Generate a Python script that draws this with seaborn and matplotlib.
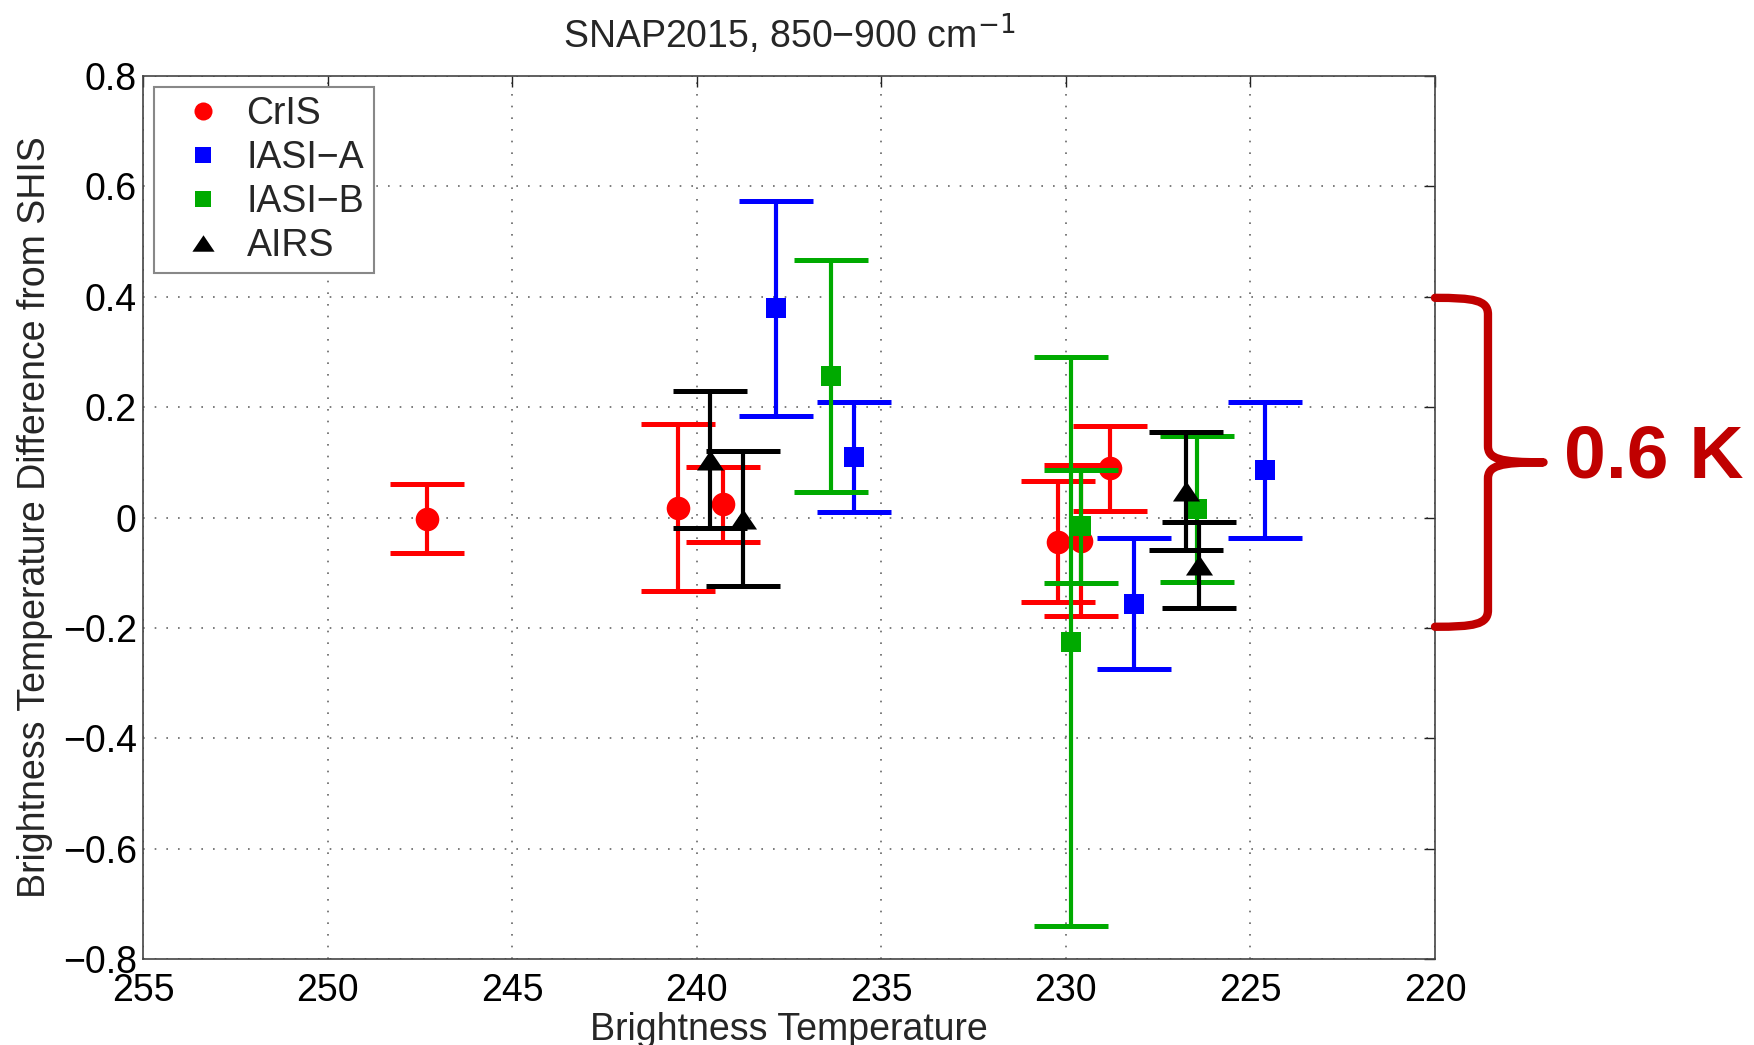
import numpy as np
import pandas as pd
import matplotlib
matplotlib.use("Agg")
import matplotlib.pyplot as plt
import seaborn as sns
from matplotlib.path import Path
from matplotlib.patches import PathPatch
from matplotlib.lines import Line2D
from matplotlib.transforms import blended_transform_factory
from matplotlib.ticker import FuncFormatter

# ---- data ----
series_names = ["CrIS", "IASI\u2212A", "IASI\u2212B", "AIRS"]

cris_t = [247.3, 240.5, 239.3, 230.2, 229.6, 228.8]
cris_v = [-0.002, 0.018, 0.024, -0.044, -0.042, 0.089]
cris_e = [0.062, 0.152, 0.068, 0.110, 0.137, 0.077]

iasia_t = [237.85, 235.75, 228.15, 224.6]
iasia_v = [0.379, 0.110, -0.156, 0.086]
iasia_e = [0.195, 0.100, 0.118, 0.123]

iasib_t = [236.35, 229.85, 229.6, 226.45]
iasib_v = [0.257, -0.225, -0.016, 0.016]
iasib_e = [0.210, 0.515, 0.102, 0.132]

airs_t = [239.65, 238.75, 226.75, 226.4]
airs_v = [0.105, -0.002, 0.048, -0.086]
airs_e = [0.124, 0.123, 0.107, 0.078]

x_ticks = [255, 250, 245, 240, 235, 230, 225, 220]
y_ticks = [-0.8, -0.6, -0.4, -0.2, 0, 0.2, 0.4, 0.6, 0.8]

brace_top, brace_bottom = 0.4, -0.2
brace_label = "0.6 K"

# ---- style ----
sns.set_style("white")
plt.rcParams['font.family'] = ['Liberation Sans', 'DejaVu Sans']
plt.rcParams['axes.unicode_minus'] = True

fig = plt.figure(figsize=(17.54, 10.45), dpi=100)
ax = fig.add_axes([143/1754, 1-959/1045, 1292/1754, 883/1045])

colors = ["#FF0000", "#0000FF", "#00AA00", "#000000"]
tri = Path([(-1, -0.74), (1, -0.74), (0, 0.74), (-1, -0.74)],
           [Path.MOVETO, Path.LINETO, Path.LINETO, Path.CLOSEPOLY])
markers = ["o", "s", "s", tri]
sizes = [17**2, 14**2, 14**2, 19.5**2]

all_data = [(cris_t, cris_v, cris_e), (iasia_t, iasia_v, iasia_e),
            (iasib_t, iasib_v, iasib_e), (airs_t, airs_v, airs_e)]

for i, (name, (t, v, e)) in enumerate(zip(series_names, all_data)):
    df = pd.DataFrame({"T": t, "dT": v, "err": e})
    ax.errorbar(df["T"], df["dT"], yerr=df["err"], fmt="none", ecolor=colors[i],
                elinewidth=3, capsize=26.8, capthick=3.6, zorder=2 + 2*i)
    sns.scatterplot(data=df, x="T", y="dT", marker=markers[i], color=colors[i],
                    s=sizes[i], edgecolor=colors[i], linewidth=0, ax=ax,
                    zorder=3 + 2*i, legend=False)

ax.set_xlim(255, 220)
ax.set_ylim(-0.8, 0.8)
ax.set_xticks(x_ticks)
ax.set_yticks(y_ticks)
ax.yaxis.set_major_formatter(FuncFormatter(lambda v, p: ("%g" % round(v, 2)).replace("-", "\u2212")))
ax.tick_params(direction="in", length=8, width=1, top=True, right=True,
               labelsize=27, colors="#222222", labelcolor="black")
ax.tick_params(axis="x", pad=10)
ax.tick_params(axis="y", pad=4.5)
ax.grid(True, linestyle=(0, (1, 6)), color="#666666", linewidth=1.2)
for s in ax.spines.values():
    s.set_color("#444444")
    s.set_linewidth(1.2)

ax.set_xlabel("Brightness Temperature", fontsize=27, labelpad=2)
ax.set_ylabel("Brightness Temperature Difference from SHIS", fontsize=27, labelpad=7)
ax.set_title("SNAP2015, 850\u2212900 cm$^{-1}$", fontsize=27, pad=20)

# legend
handles = [Line2D([], [], linestyle="none", marker=m, color=c, markersize=ms, markeredgewidth=0)
           for m, c, ms in zip(markers, colors, [13, 11, 11, 16])]
leg = ax.legend(handles, series_names, loc="upper left", bbox_to_anchor=(0.0085, 0.9875),
                fontsize=27, frameon=True, fancybox=False, edgecolor="#888888",
                handlelength=2.12, handletextpad=0.1, labelspacing=0.21,
                borderpad=0.25, borderaxespad=0.0, framealpha=1)
leg.get_frame().set_linewidth(1.5)

# brace annotation
tr = blended_transform_factory(ax.transAxes, ax.transData)
xv, xt = 1.041, 1.084
mid = (brace_top + brace_bottom) / 2
top, bot = brace_top - 0.002, brace_bottom + 0.002
verts = [(1.0, top), (1.03, top), (xv, top - 0.004), (xv, top - 0.03),
         (xv, mid + 0.03),
         (xv, mid + 0.006), (1.05, mid), (xt, mid),
         (1.05, mid), (xv, mid - 0.006), (xv, mid - 0.03),
         (xv, bot + 0.03),
         (xv, bot + 0.004), (1.03, bot), (1.0, bot)]
codes = [Path.MOVETO, Path.CURVE4, Path.CURVE4, Path.CURVE4,
         Path.LINETO,
         Path.CURVE4, Path.CURVE4, Path.CURVE4,
         Path.CURVE4, Path.CURVE4, Path.CURVE4,
         Path.LINETO,
         Path.CURVE4, Path.CURVE4, Path.CURVE4]
brace = PathPatch(Path(verts, codes), transform=tr, facecolor="none",
                  edgecolor="#C00000", linewidth=6, clip_on=False,
                  capstyle="round", joinstyle="round", zorder=20)
ax.add_patch(brace)
ax.text(1.0998, 0.073, brace_label, transform=tr, fontsize=54, fontweight="bold",
        color="#C00000", ha="left", va="baseline", clip_on=False)

fig.savefig("out.png", dpi=100)
